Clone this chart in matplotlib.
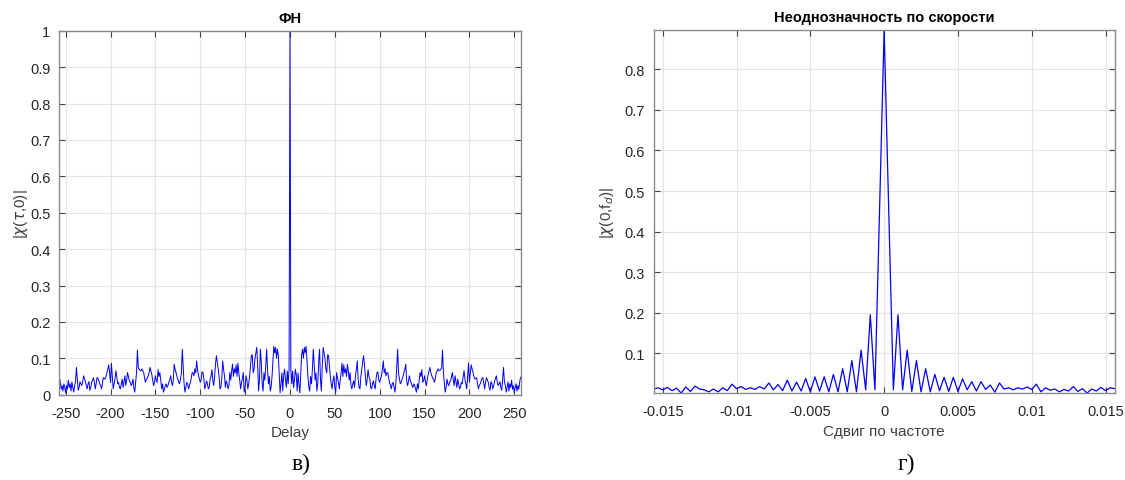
import matplotlib
matplotlib.use('Agg')
import matplotlib.pyplot as plt
import numpy as np

plt.rcParams['font.family'] = ['Liberation Sans', 'DejaVu Sans']
plt.rcParams['mathtext.fontset'] = 'dejavusans'

# |chi(tau,0)| for tau = 0..257 (the magnitude is symmetric in tau)
delay_pos = [
    1.0, 0.07, 0.03, 0.065, 0.02, 0.04, 0.07, 0.055, 0.01, 0.06,
    0.03, 0.005, 0.06, 0.11, 0.125, 0.1, 0.13, 0.115, 0.133, 0.09,
    0.05, 0.02, 0.01, 0.05, 0.03, 0.07, 0.125, 0.08, 0.04, 0.06,
    0.01, 0.03, 0.09, 0.125, 0.04, 0.01, 0.08, 0.13, 0.115, 0.1,
    0.07, 0.06, 0.11, 0.107, 0.08, 0.05, 0.03, 0.016, 0.04, 0.052,
    0.02, 0.007, 0.061, 0.045, 0.034, 0.016, 0.04, 0.06, 0.087, 0.05,
    0.082, 0.06, 0.071, 0.05, 0.084, 0.066, 0.04, 0.061, 0.025, 0.016,
    0.03, 0.038, 0.02, 0.052, 0.07, 0.093, 0.043, 0.02, 0.016, 0.05,
    0.071, 0.09, 0.107, 0.084, 0.05, 0.025, 0.04, 0.069, 0.05, 0.043,
    0.02, 0.016, 0.03, 0.038, 0.025, 0.016, 0.045, 0.061, 0.063, 0.04,
    0.034, 0.045, 0.052, 0.07, 0.093, 0.06, 0.071, 0.052, 0.06, 0.061,
    0.045, 0.034, 0.025, 0.016, 0.03, 0.034, 0.02, 0.007, 0.03, 0.08,
    0.125, 0.06, 0.043, 0.03, 0.034, 0.043, 0.05, 0.061, 0.07, 0.084,
    0.04, 0.025, 0.035, 0.052, 0.04, 0.034, 0.025, 0.02, 0.03, 0.025,
    0.015, 0.007, 0.03, 0.016, 0.04, 0.061, 0.05, 0.069, 0.034, 0.04,
    0.052, 0.035, 0.025, 0.04, 0.056, 0.065, 0.075, 0.06, 0.052, 0.045,
    0.043, 0.034, 0.045, 0.061, 0.065, 0.071, 0.066, 0.066, 0.07, 0.073,
    0.123, 0.06, 0.034, 0.007, 0.02, 0.043, 0.03, 0.025, 0.035, 0.038,
    0.05, 0.061, 0.04, 0.025, 0.052, 0.035, 0.02, 0.043, 0.03, 0.016,
    0.02, 0.034, 0.03, 0.05, 0.066, 0.043, 0.03, 0.016, 0.05, 0.087,
    0.034, 0.06, 0.082, 0.07, 0.061, 0.05, 0.043, 0.045, 0.047, 0.03,
    0.016, 0.025, 0.03, 0.038, 0.045, 0.047, 0.03, 0.016, 0.035, 0.047,
    0.04, 0.034, 0.02, 0.012, 0.036, 0.03, 0.016, 0.025, 0.036, 0.045,
    0.052, 0.035, 0.025, 0.03, 0.036, 0.02, 0.012, 0.045, 0.075, 0.035,
    0.025, 0.007, 0.02, 0.035, 0.01, 0.03, 0.02, 0.04, 0.015, 0.025,
    0.005, 0.02, 0.03, 0.01, 0.025, 0.015, 0.035, 0.048,
]
delay_pos = np.array(delay_pos)
delay_vals = np.concatenate([delay_pos[:0:-1], delay_pos])
delay = np.arange(-(len(delay_pos) - 1), len(delay_pos))

# |chi(0,fd)| sampled at fd = k/3200, k = -50..50
doppler_vals = [
    0.012, 0.015, 0.010, 0.016, 0.008, 0.014, 0.002, 0.017, 0.006, 0.019,
    0.012, 0.010, 0.005, 0.012, 0.005, 0.015, 0.008, 0.024, 0.013, 0.018,
    0.011, 0.015, 0.011, 0.018, 0.012, 0.027, 0.010, 0.023, 0.008, 0.034,
    0.007, 0.029, 0.007, 0.038, 0.005, 0.042, 0.007, 0.042, 0.005, 0.048,
    0.005, 0.062, 0.005, 0.082, 0.005, 0.108, 0.010, 0.195, 0.010, 0.45,
    0.8976,
    0.45, 0.010, 0.195, 0.010, 0.108, 0.006, 0.082, 0.005, 0.062, 0.005,
    0.048, 0.008, 0.041, 0.006, 0.041, 0.006, 0.037, 0.010, 0.030, 0.007,
    0.030, 0.011, 0.022, 0.004, 0.027, 0.012, 0.015, 0.010, 0.015, 0.012,
    0.017, 0.011, 0.024, 0.005, 0.015, 0.009, 0.012, 0.005, 0.011, 0.007,
    0.018, 0.006, 0.013, 0.002, 0.012, 0.007, 0.016, 0.008, 0.015, 0.013,
]
half = (len(doppler_vals) - 1) // 2
freq_shift = np.arange(-half, half + 1) / 3200.0

delay_ticks = [-250, -200, -150, -100, -50, 0, 50, 100, 150, 200, 250]
delay_yticks = [0, 0.1, 0.2, 0.3, 0.4, 0.5, 0.6, 0.7, 0.8, 0.9, 1]
freq_ticks = [-0.015, -0.01, -0.005, 0, 0.005, 0.01, 0.015]
freq_yticks = [0.1, 0.2, 0.3, 0.4, 0.5, 0.6, 0.7, 0.8]

fig = plt.figure(figsize=(11.25, 4.81), dpi=100)
ax1 = fig.add_axes([0.0522, 0.1773, 0.4111, 0.7568])
ax2 = fig.add_axes([0.5809, 0.1802, 0.4100, 0.7559])

txt = '#262626'
for ax in (ax1, ax2):
    ax.grid(True, color='#e3e3e3', lw=0.8)
    ax.set_axisbelow(True)
    for s in ax.spines.values():
        s.set_color('#8a8a8a')
        s.set_linewidth(1.0)
    ax.tick_params(direction='in', length=4, width=0.8, color='#404040',
                   labelcolor=txt, labelsize=10.5, top=True, right=True)
    ax.tick_params(axis='x', pad=8)
    ax.tick_params(axis='y', pad=6)

ax1.plot(delay, delay_vals, color='#0000ff', lw=0.7)
ax1.set_xlim(-257.7, 257.7)
ax1.set_ylim(0, 1)
ax1.set_xticks(delay_ticks)
ax1.set_xticklabels(['%g' % t for t in delay_ticks])
ax1.set_yticks(delay_yticks)
ax1.set_yticklabels(['%g' % t for t in delay_yticks])
ax1.set_title('ФН', fontsize=10.5, fontweight='bold', color='black', pad=6)
ax1.set_xlabel('Delay', fontsize=11, color='#404040', labelpad=4)
ax1.set_ylabel(r'|$\chi$($\tau$,0)|', fontsize=11, color='#404040', labelpad=0)

ax2.plot(freq_shift, doppler_vals, color='#0000ff', lw=0.9)
ax2.set_xlim(-0.015625, 0.015625)
ax2.set_ylim(0.0014, 0.8976)
ax2.set_xticks(freq_ticks)
ax2.set_xticklabels(['%g' % t for t in freq_ticks])
ax2.set_yticks(freq_yticks)
ax2.set_yticklabels(['%g' % t for t in freq_yticks])
ax2.set_title('Неоднозначность по скорости', fontsize=10.5, fontweight='bold',
              color='black', pad=6)
ax2.set_xlabel('Сдвиг по частоте', fontsize=11, color='#404040', labelpad=4)
ax2.set_ylabel(r'|$\chi$(0,f$_d$)|', fontsize=11, color='#404040', labelpad=6)

fig.text(0.268, 0.012, 'в)', fontsize=17, family=['Liberation Serif', 'DejaVu Serif'],
         ha='center', va='bottom')
fig.text(0.806, 0.012, 'г)', fontsize=17, family=['Liberation Serif', 'DejaVu Serif'],
         ha='center', va='bottom')

fig.savefig('out.png', dpi=100, facecolor='white')
